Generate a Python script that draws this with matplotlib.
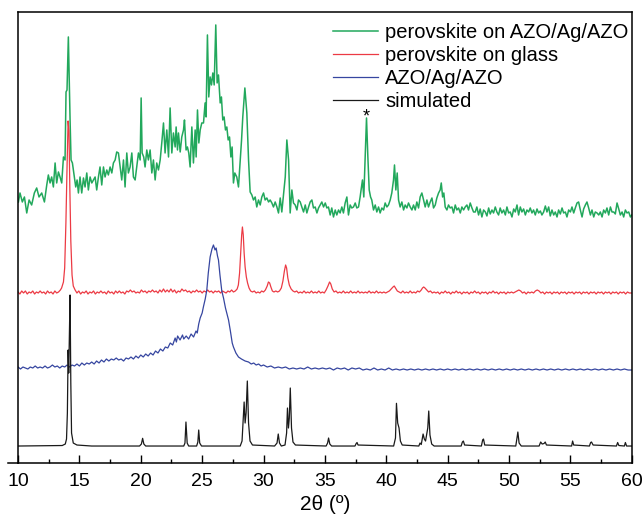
import numpy as np
import matplotlib
matplotlib.use('Agg')
import matplotlib.pyplot as plt
from matplotlib.ticker import MultipleLocator

plt.rcParams['font.family'] = ['Liberation Sans', 'DejaVu Sans']

# XRD patterns, stacked with offsets (arbitrary intensity units)
green_pts = [
    (10.03, 261), (10.16, 270), (10.35, 261), (10.52, 266), (10.71, 250), (10.9, 263), (11.11, 258),
    (11.33, 270), (11.52, 275), (11.71, 266), (11.93, 270), (12.15, 261), (12.34, 278), (12.47, 288),
    (12.61, 280), (12.74, 286), (12.88, 276), (13.02, 300), (13.15, 280), (13.29, 291), (13.42, 286),
    (13.56, 280), (13.7, 306), (13.83, 303), (13.91, 371), (13.99, 373), (14.1, 426), (14.24, 343),
    (14.32, 303), (14.43, 300), (14.59, 286), (14.7, 276), (14.81, 283), (14.92, 270), (15.05, 286),
    (15.19, 270), (15.33, 285), (15.46, 276), (15.6, 290), (15.73, 273), (15.87, 286), (16.01, 280),
    (16.14, 283), (16.28, 286), (16.41, 273), (16.55, 286), (16.68, 296), (16.82, 278), (16.96, 296),
    (17.09, 286), (17.23, 293), (17.36, 288), (17.5, 296), (17.64, 290), (17.77, 300), (17.91, 303),
    (18.04, 311), (18.18, 310), (18.32, 296), (18.45, 283), (18.59, 303), (18.72, 276), (18.86, 310),
    (18.99, 290), (19.13, 296), (19.27, 310), (19.4, 286), (19.54, 283), (19.67, 296), (19.81, 310),
    (19.95, 303), (20.03, 365), (20.11, 310), (20.24, 306), (20.35, 296), (20.49, 313), (20.62, 303),
    (20.76, 313), (20.9, 290), (21.03, 303), (21.17, 283), (21.3, 300), (21.44, 293), (21.58, 303),
    (21.71, 320), (21.85, 340), (21.98, 310), (22.12, 333), (22.26, 306), (22.39, 355), (22.53, 310),
    (22.66, 330), (22.8, 316), (22.88, 336), (22.99, 313), (23.07, 330), (23.21, 311), (23.34, 326),
    (23.48, 333), (23.56, 343), (23.69, 313), (23.8, 316), (23.91, 310), (24.02, 296), (24.16, 336),
    (24.29, 300), (24.43, 333), (24.51, 306), (24.62, 353), (24.73, 320), (24.84, 333), (24.97, 340),
    (25.11, 340), (25.24, 360), (25.32, 346), (25.43, 428), (25.54, 366), (25.65, 386), (25.76, 378),
    (25.87, 390), (25.98, 378), (26.11, 438), (26.22, 380), (26.33, 388), (26.47, 360), (26.57, 366),
    (26.68, 343), (26.79, 346), (26.9, 333), (27.01, 336), (27.12, 323), (27.23, 326), (27.34, 306),
    (27.44, 316), (27.55, 280), (27.66, 290), (27.82, 286), (27.96, 276), (28.1, 303), (28.21, 323),
    (28.31, 346), (28.48, 375), (28.64, 350), (28.78, 303), (28.91, 271), (29.05, 268), (29.18, 263),
    (29.32, 266), (29.45, 256), (29.59, 263), (29.73, 258), (29.86, 266), (30.0, 270), (30.13, 263),
    (30.27, 265), (30.41, 261), (30.54, 263), (30.68, 260), (30.81, 256), (30.95, 261), (31.09, 256),
    (31.22, 250), (31.36, 265), (31.49, 251), (31.63, 268), (31.77, 286), (31.9, 323), (32.04, 303),
    (32.17, 250), (32.31, 273), (32.44, 260), (32.58, 258), (32.72, 253), (32.85, 263), (32.99, 261),
    (33.12, 256), (33.26, 251), (33.4, 258), (33.53, 250), (33.67, 256), (33.8, 261), (33.94, 263),
    (34.07, 255), (34.21, 256), (34.35, 250), (34.48, 255), (34.62, 258), (34.75, 261), (34.89, 256),
    (35.03, 260), (35.16, 255), (35.29, 256), (35.43, 248), (35.56, 255), (35.7, 246), (35.84, 253),
    (35.97, 248), (36.11, 253), (36.24, 250), (36.38, 256), (36.51, 250), (36.65, 260), (36.79, 266),
    (36.92, 248), (37.06, 258), (37.19, 255), (37.33, 256), (37.47, 260), (37.6, 255), (37.74, 256),
    (37.87, 266), (37.95, 273), (38.06, 283), (38.17, 266), (38.28, 306), (38.39, 345), (38.5, 306),
    (38.61, 273), (38.72, 266), (38.82, 263), (38.96, 253), (39.1, 258), (39.23, 251), (39.37, 256),
    (39.5, 250), (39.64, 255), (39.78, 253), (39.91, 260), (40.05, 256), (40.18, 258), (40.32, 263),
    (40.45, 270), (40.59, 283), (40.67, 298), (40.78, 273), (40.89, 290), (41.0, 263), (41.13, 256),
    (41.27, 261), (41.41, 253), (41.54, 258), (41.68, 255), (41.81, 260), (41.95, 256), (42.09, 253),
    (42.22, 258), (42.36, 253), (42.49, 261), (42.63, 255), (42.76, 266), (42.9, 270), (43.04, 263),
    (43.17, 256), (43.31, 263), (43.44, 256), (43.58, 261), (43.72, 265), (43.85, 255), (43.99, 258),
    (44.12, 265), (44.26, 270), (44.39, 273), (44.48, 280), (44.59, 266), (44.69, 270), (44.8, 256),
    (44.94, 253), (45.07, 258), (45.21, 255), (45.35, 256), (45.48, 250), (45.62, 258), (45.75, 253),
    (45.89, 255), (46.03, 250), (46.16, 256), (46.3, 253), (46.43, 256), (46.57, 258), (46.7, 253),
    (46.84, 260), (46.98, 255), (47.11, 251), (47.25, 251), (47.38, 256), (47.52, 248), (47.65, 254),
    (47.79, 246), (47.93, 253), (48.07, 251), (48.2, 247), (48.34, 255), (48.47, 249), (48.61, 253),
    (48.74, 250), (48.88, 256), (49.01, 251), (49.15, 248), (49.28, 255), (49.42, 250), (49.56, 253),
    (49.7, 248), (49.83, 256), (49.97, 250), (50.1, 251), (50.24, 246), (50.38, 254), (50.51, 251),
    (50.65, 258), (50.78, 248), (50.92, 256), (51.05, 251), (51.19, 254), (51.33, 248), (51.46, 253),
    (51.6, 251), (51.73, 255), (51.87, 250), (52.0, 253), (52.14, 248), (52.28, 254), (52.41, 250),
    (52.55, 252), (52.68, 248), (52.82, 251), (52.96, 257), (53.09, 251), (53.23, 256), (53.36, 247),
    (53.5, 253), (53.64, 248), (53.77, 251), (53.91, 246), (54.04, 253), (54.18, 249), (54.32, 255),
    (54.45, 250), (54.59, 251), (54.72, 246), (54.86, 253), (55.0, 251), (55.13, 256), (55.27, 250),
    (55.4, 255), (55.54, 260), (55.67, 261), (55.81, 253), (55.95, 246), (56.08, 254), (56.22, 258),
    (56.35, 261), (56.49, 255), (56.63, 248), (56.76, 253), (56.9, 246), (57.03, 251), (57.17, 250),
    (57.31, 248), (57.44, 251), (57.58, 246), (57.71, 253), (57.85, 250), (57.98, 255), (58.12, 248),
    (58.26, 256), (58.39, 251), (58.53, 251), (58.66, 249), (58.8, 260), (58.94, 254), (59.07, 248),
    (59.21, 251), (59.34, 246), (59.48, 253), (59.61, 250), (59.75, 251), (59.89, 246), (60.0, 248),
]

red_pts = [
    (10.0, 171), (10.15, 169), (10.3, 172), (10.45, 170), (10.6, 172), (10.75, 169), (10.9, 171),
    (11.05, 170), (11.2, 172), (11.35, 169), (11.5, 171), (11.65, 170), (11.8, 172), (11.95, 170),
    (12.1, 171), (12.25, 169), (12.4, 172), (12.55, 170), (12.7, 171), (12.85, 169), (13.0, 172),
    (13.15, 170), (13.3, 171), (13.45, 173), (13.55, 175), (13.7, 181), (13.8, 195), (13.9, 240),
    (14.0, 300), (14.08, 342), (14.15, 332), (14.22, 275), (14.3, 222), (14.4, 188), (14.5, 177),
    (14.65, 173), (14.8, 170), (14.95, 172), (15.1, 169), (15.25, 171), (15.4, 170), (15.55, 172),
    (15.7, 169), (15.85, 171), (16.0, 170), (16.15, 172), (16.3, 169), (16.45, 171), (16.6, 170),
    (16.75, 172), (16.9, 170), (17.05, 171), (17.2, 169), (17.35, 172), (17.5, 170), (17.65, 171),
    (17.8, 169), (17.95, 172), (18.1, 170), (18.25, 172), (18.4, 170), (18.55, 171), (18.7, 169),
    (18.85, 172), (19.0, 171), (19.15, 173), (19.3, 171), (19.45, 172), (19.6, 170), (19.75, 171),
    (19.9, 170), (20.05, 173), (20.2, 171), (20.35, 172), (20.5, 170), (20.65, 172), (20.8, 171),
    (20.95, 173), (21.1, 171), (21.25, 172), (21.4, 170), (21.55, 173), (21.7, 171), (21.85, 174),
    (22.0, 171), (22.15, 173), (22.3, 171), (22.45, 174), (22.6, 171), (22.75, 173), (22.9, 170),
    (23.05, 172), (23.2, 171), (23.35, 174), (23.5, 172), (23.65, 173), (23.8, 171), (23.95, 172),
    (24.1, 170), (24.25, 172), (24.4, 171), (24.55, 173), (24.7, 171), (24.85, 172), (25.0, 170),
    (25.15, 172), (25.3, 171), (25.45, 173), (25.6, 171), (25.75, 172), (25.9, 170), (26.05, 172),
    (26.2, 171), (26.35, 172), (26.5, 170), (26.65, 172), (26.8, 171), (26.95, 170), (27.1, 172),
    (27.25, 171), (27.4, 173), (27.55, 171), (27.7, 172), (27.85, 174), (27.95, 178), (28.05, 190),
    (28.15, 212), (28.22, 228), (28.28, 236), (28.35, 228), (28.42, 210), (28.5, 196), (28.6, 186),
    (28.7, 180), (28.82, 175), (28.95, 172), (29.1, 171), (29.25, 172), (29.4, 170), (29.55, 171),
    (29.7, 170), (29.85, 172), (30.0, 171), (30.15, 173), (30.3, 177), (30.4, 181), (30.5, 180),
    (30.6, 176), (30.72, 172), (30.85, 171), (31.0, 172), (31.15, 171), (31.3, 172), (31.45, 175),
    (31.58, 182), (31.7, 192), (31.8, 198), (31.88, 195), (31.98, 185), (32.1, 178), (32.25, 174),
    (32.4, 172), (32.55, 171), (32.7, 172), (32.85, 170), (33.0, 171), (33.15, 170), (33.3, 172),
    (33.45, 170), (33.6, 171), (33.75, 170), (33.9, 172), (34.05, 170), (34.2, 171), (34.35, 170),
    (34.5, 172), (34.65, 170), (34.8, 171), (34.95, 170), (35.1, 173), (35.25, 177), (35.38, 181),
    (35.48, 179), (35.6, 174), (35.75, 171), (35.9, 172), (36.05, 170), (36.2, 171), (36.35, 170),
    (36.5, 172), (36.65, 170), (36.8, 171), (36.95, 170), (37.1, 172), (37.25, 170), (37.4, 171),
    (37.55, 170), (37.7, 172), (37.85, 170), (38.0, 171), (38.15, 170), (38.3, 171), (38.45, 170),
    (38.6, 172), (38.75, 170), (38.9, 171), (39.05, 170), (39.2, 172), (39.35, 170), (39.5, 171),
    (39.65, 170), (39.8, 171), (39.95, 170), (40.1, 171), (40.25, 172), (40.4, 174), (40.55, 176),
    (40.65, 177), (40.75, 175), (40.9, 172), (41.05, 171), (41.2, 170), (41.35, 172), (41.5, 170),
    (41.65, 171), (41.8, 170), (41.95, 172), (42.1, 170), (42.25, 171), (42.4, 170), (42.55, 172),
    (42.7, 171), (42.85, 173), (42.95, 175), (43.05, 176), (43.15, 175), (43.3, 173), (43.45, 171),
    (43.6, 172), (43.75, 170), (43.9, 171), (44.05, 170), (44.2, 171), (44.35, 169), (44.5, 171),
    (44.65, 170), (44.8, 172), (44.95, 170), (45.1, 171), (45.25, 169), (45.4, 171), (45.55, 170),
    (45.7, 172), (45.85, 170), (46.0, 171), (46.15, 169), (46.3, 171), (46.45, 170), (46.6, 171),
    (46.75, 169), (46.9, 171), (47.05, 170), (47.2, 172), (47.35, 170), (47.5, 171), (47.65, 169),
    (47.8, 171), (47.95, 170), (48.1, 171), (48.25, 169), (48.4, 171), (48.55, 170), (48.7, 172),
    (48.85, 170), (49.0, 171), (49.15, 169), (49.3, 171), (49.45, 170), (49.6, 171), (49.75, 169),
    (49.9, 171), (50.05, 170), (50.2, 171), (50.35, 170), (50.5, 171), (50.65, 172), (50.8, 173),
    (50.95, 172), (51.1, 170), (51.25, 171), (51.4, 169), (51.55, 171), (51.7, 170), (51.85, 171),
    (52.0, 170), (52.15, 172), (52.3, 173), (52.45, 172), (52.6, 170), (52.75, 171), (52.9, 169),
    (53.05, 171), (53.2, 170), (53.35, 171), (53.5, 169), (53.65, 171), (53.8, 170), (53.95, 171),
    (54.1, 169), (54.25, 171), (54.4, 170), (54.55, 171), (54.7, 169), (54.85, 171), (55.0, 170),
    (55.15, 171), (55.3, 169), (55.45, 171), (55.6, 170), (55.75, 171), (55.9, 169), (56.05, 171),
    (56.2, 170), (56.35, 171), (56.5, 169), (56.65, 171), (56.8, 170), (56.95, 171), (57.1, 169),
    (57.25, 171), (57.4, 170), (57.55, 171), (57.7, 169), (57.85, 171), (58.0, 170), (58.15, 171),
    (58.3, 169), (58.45, 171), (58.6, 170), (58.75, 171), (58.9, 169), (59.05, 171), (59.2, 170),
    (59.35, 171), (59.5, 169), (59.65, 171), (59.8, 170), (60.0, 170),
]

blue_pts = [
    (10.0, 96), (10.2, 94), (10.4, 96), (10.6, 95), (10.8, 94), (11.0, 96), (11.2, 95), (11.4, 97),
    (11.6, 95), (11.8, 96), (12.0, 95), (12.2, 97), (12.4, 95), (12.6, 96), (12.8, 98), (13.0, 96),
    (13.2, 97), (13.4, 95), (13.6, 97), (13.8, 96), (14.0, 98), (14.2, 96), (14.4, 98), (14.6, 97),
    (14.8, 99), (15.0, 97), (15.2, 100), (15.4, 98), (15.6, 100), (15.8, 99), (16.0, 101), (16.2, 99),
    (16.4, 102), (16.6, 100), (16.8, 103), (17.0, 101), (17.2, 104), (17.4, 102), (17.6, 104),
    (17.8, 103), (18.0, 105), (18.2, 103), (18.4, 104), (18.6, 102), (18.8, 105), (19.0, 104),
    (19.2, 106), (19.4, 104), (19.6, 107), (19.8, 105), (20.0, 108), (20.2, 106), (20.4, 109),
    (20.6, 107), (20.8, 110), (21.0, 108), (21.2, 112), (21.4, 110), (21.6, 114), (21.8, 112),
    (22.0, 116), (22.2, 115), (22.4, 120), (22.6, 118), (22.8, 125), (22.9, 121), (23.0, 127),
    (23.2, 123), (23.4, 128), (23.5, 124), (23.7, 127), (23.9, 124), (24.1, 129), (24.3, 126),
    (24.5, 132), (24.6, 130), (24.72, 139), (24.84, 145), (25.0, 150), (25.1, 156), (25.25, 164),
    (25.38, 173), (25.5, 190), (25.65, 206), (25.8, 214), (25.92, 218), (26.05, 213), (26.14, 215),
    (26.25, 207), (26.33, 203), (26.45, 188), (26.6, 172), (26.74, 165), (26.9, 155), (27.05, 148),
    (27.15, 143), (27.3, 132), (27.45, 120), (27.55, 116), (27.75, 110), (27.96, 106), (28.2, 104),
    (28.5, 102), (28.78, 101), (29.0, 99), (29.2, 100), (29.4, 98), (29.6, 99), (29.8, 97), (30.0, 98),
    (30.3, 96), (30.6, 97), (30.9, 95), (31.2, 96), (31.5, 95), (31.8, 96), (32.1, 94), (32.4, 95),
    (32.7, 94), (33.0, 95), (33.3, 94), (33.6, 96), (33.9, 94), (34.2, 95), (34.5, 94), (34.8, 95),
    (35.1, 94), (35.4, 95), (35.7, 93), (36.0, 95), (36.3, 94), (36.6, 95), (36.9, 93), (37.2, 95),
    (37.5, 94), (37.8, 95), (38.1, 93), (38.4, 94), (38.7, 93), (39.0, 95), (39.3, 93), (39.6, 94),
    (39.9, 93), (40.2, 95), (40.5, 93), (40.8, 94), (41.1, 93), (41.4, 94), (41.7, 93), (42.0, 94),
    (42.3, 93), (42.6, 94), (42.9, 93), (43.2, 94), (43.5, 93), (43.8, 94), (44.1, 93), (44.4, 94),
    (44.7, 93), (45.0, 94), (45.3, 93), (45.6, 94), (45.9, 93), (46.2, 94), (46.5, 93), (46.8, 94),
    (47.1, 93), (47.4, 94), (47.7, 93), (48.0, 94), (48.3, 93), (48.6, 94), (48.9, 93), (49.2, 94),
    (49.5, 93), (49.8, 94), (50.1, 93), (50.4, 94), (50.7, 93), (51.0, 94), (51.3, 93), (51.6, 94),
    (51.9, 93), (52.2, 94), (52.5, 93), (52.8, 94), (53.1, 93), (53.4, 94), (53.7, 93), (54.0, 94),
    (54.3, 93), (54.6, 94), (54.9, 93), (55.2, 94), (55.5, 93), (55.8, 94), (56.1, 93), (56.4, 94),
    (56.7, 93), (57.0, 94), (57.3, 93), (57.6, 94), (57.9, 93), (58.2, 94), (58.5, 93), (58.8, 94),
    (59.1, 93), (59.4, 94), (59.7, 93), (60.0, 93),
]

black_pts = [
    (10.0, 17), (13.6, 17.5), (13.85, 19), (13.95, 24), (14.02, 50), (14.08, 113), (14.13, 90),
    (14.2, 140), (14.24, 168), (14.3, 80), (14.36, 30), (14.5, 20), (14.8, 18), (16.0, 17),
    (19.9, 17), (20.05, 19), (20.15, 24.7), (20.25, 19), (20.4, 17), (23.5, 17), (23.6, 20),
    (23.68, 41), (23.78, 20), (23.9, 17), (24.55, 17), (24.65, 21), (24.72, 33), (24.8, 20),
    (24.95, 17), (28.1, 17), (28.25, 22), (28.35, 45), (28.42, 61), (28.5, 40), (28.58, 50),
    (28.68, 82), (28.78, 40), (28.9, 22), (29.1, 18), (30.9, 17), (31.1, 20), (31.2, 29),
    (31.3, 20), (31.45, 17), (31.75, 18), (31.88, 30), (31.95, 55), (32.03, 35), (32.1, 45),
    (32.18, 75), (32.28, 35), (32.4, 21), (32.6, 18), (35.1, 17), (35.22, 20), (35.3, 25),
    (35.4, 19), (35.55, 17), (37.45, 17), (37.55, 19.5), (37.62, 20.5), (37.7, 18), (40.6, 17),
    (40.75, 25), (40.83, 59.7), (40.93, 40), (41.04, 35), (41.15, 22), (41.3, 18), (42.65, 17),
    (42.75, 20), (42.85, 18.5), (43.0, 29), (43.1, 24), (43.2, 22), (43.38, 35), (43.46, 52),
    (43.56, 28), (43.7, 19), (43.9, 17), (46.1, 17), (46.2, 21), (46.28, 22), (46.38, 18),
    (47.75, 17), (47.85, 23), (47.92, 24), (48.02, 18), (50.55, 17), (50.65, 25), (50.72, 31),
    (50.82, 20), (51.0, 17), (52.45, 17), (52.58, 21), (52.7, 19), (52.85, 19.5), (52.95, 21),
    (53.05, 18), (55.1, 17), (55.18, 22), (55.27, 18), (56.55, 17), (56.65, 20.5), (56.72, 21),
    (56.85, 18), (58.75, 17), (58.85, 20.5), (58.95, 17.5), (59.4, 17), (59.48, 20.5), (59.58, 17),
    (60.0, 17),
]

labels = ['perovskite on AZO/Ag/AZO', 'perovskite on glass', 'AZO/Ag/AZO', 'simulated']
colors = ['#22a85c', '#ec3a44', '#3646a0', '#1a1a1a']
star_pos = (38.39, 346)

fig = plt.figure(figsize=(6.44, 5.17), dpi=100)
ax = fig.add_axes([0.028, 0.1044, 0.953, 0.8725])

for pts, lab, col, lw in zip([green_pts, red_pts, blue_pts, black_pts], labels, colors,
                             [1.1, 0.9, 0.9, 0.9]):
    arr = np.array(pts)
    ax.plot(arr[:, 0], arr[:, 1], color=col, lw=lw, label=lab)

ax.text(star_pos[0], star_pos[1], '*', ha='center', va='center', fontsize=13)

ax.set_xlim(10, 60)
ax.set_ylim(0, 451)
ax.set_yticks([])
ax.xaxis.set_major_locator(MultipleLocator(5))
ax.xaxis.set_minor_locator(MultipleLocator(2.5))
ax.tick_params(axis='x', which='major', direction='in', length=5.5, width=1.0, labelsize=14, pad=7)
ax.tick_params(axis='x', which='minor', direction='in', length=3, width=1.0)
ax.set_xlabel('2θ (º)', fontsize=15, labelpad=4)
for s in ax.spines.values():
    s.set_linewidth(1.1)
# bottom axis line reaches a little left of the frame
ax.plot([-0.017, 0], [0, 0], transform=ax.transAxes, color='black', lw=1.1, clip_on=False)

ax.legend(loc='upper right', bbox_to_anchor=(0.995, 0.975), frameon=False, fontsize=14.5,
          handlelength=2.25, handletextpad=0.35, labelspacing=0.2, borderpad=0, borderaxespad=0)

fig.savefig('out.png', dpi=100)
